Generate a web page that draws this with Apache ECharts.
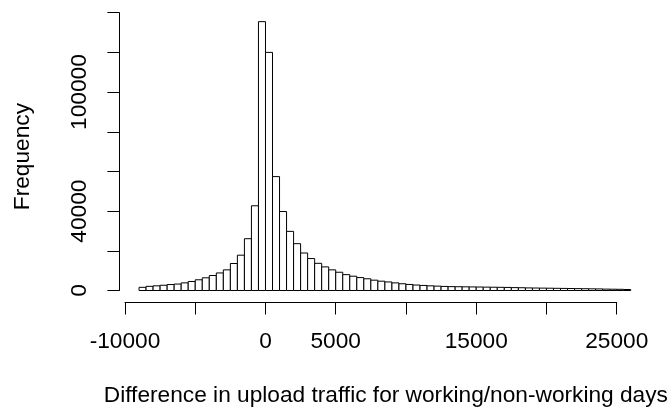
<!DOCTYPE html>
<html>
<head>
<meta charset="utf-8">
<script src="https://cdn.jsdelivr.net/npm/echarts@6/dist/echarts.min.js"></script>
<style>
html,body{margin:0;padding:0;background:#fff;}
#chart{width:672px;height:414px;}
</style>
</head>
<body>
<div id="chart"></div>
<script>
// Histogram bins (left edges, width 500) and counts
const binWidth = 500;
const binStarts = [
  -9000, -8500, -8000, -7500, -7000, -6500, -6000, -5500, -5000, -4500,
  -4000, -3500, -3000, -2500, -2000, -1500, -1000, -500,
  0, 500, 1000, 1500, 2000, 2500, 3000, 3500, 4000, 4500,
  5000, 5500, 6000, 6500, 7000, 7500, 8000, 8500, 9000, 9500,
  10000, 10500, 11000, 11500, 12000, 12500, 13000, 13500, 14000, 14500,
  15000, 15500, 16000, 16500, 17000, 17500, 18000, 18500, 19000, 19500,
  20000, 20500, 21000, 21500, 22000, 22500, 23000, 23500, 24000, 24500,
  25000, 25500
];
const counts = [
  1600, 2100, 2350, 2650, 3000, 3250, 3850, 4550, 5400, 6400,
  7550, 8850, 10400, 13600, 17800, 26100, 42700, 135500,
  120000, 57400, 39800, 29800, 23600, 18900, 16100, 13700, 11900, 10400,
  9200, 8000, 7200, 6500, 5900, 5200, 4700, 4300, 3850, 3400,
  3050, 2750, 2550, 2350, 2200, 2050, 1950, 1900, 1850, 1800,
  1750, 1700, 1650, 1600, 1550, 1450, 1400, 1300, 1250, 1200,
  1150, 1100, 1050, 1000, 950, 900, 850, 800, 700, 650,
  600, 500
];
const xTicksShown = [-10000, 0, 5000, 15000, 25000];
const yTicksShown = [0, 40000, 100000];
const xTitle = 'Difference in upload traffic for working/non-working days';
const yTitle = 'Frequency';

const data = binStarts.map((s, i) => [s, s + binWidth, counts[i]]);
const font = 'Liberation Sans';
const fs = 22.7;

const chart = echarts.init(document.getElementById('chart'), null, {renderer: 'canvas'});
chart.setOption({
  animation: false,
  backgroundColor: '#fff',
  grid: {left: 125, right: 55.3, top: 12.7, bottom: 123.5, containLabel: false},
  xAxis: {
    type: 'value', min: -10000, max: 25000, interval: 5000,
    offset: 12,
    axisLine: {show: true, onZero: false, lineStyle: {color: '#000', width: 1}},
    axisTick: {show: true, length: 12, lineStyle: {color: '#000', width: 1}},
    splitLine: {show: false},
    axisLabel: {
      margin: 28, color: '#000', fontSize: fs, fontFamily: font,
      formatter: v => xTicksShown.indexOf(v) >= 0 ? String(v) : ''
    },
    name: xTitle, nameLocation: 'middle', nameGap: 82,
    nameTextStyle: {color: '#000', fontSize: fs, fontFamily: font, padding: [0, 0, 0, 30]}
  },
  yAxis: {
    type: 'value', min: 0, max: 140000, interval: 20000,
    offset: 5.6,
    axisLine: {show: true, onZero: false, lineStyle: {color: '#000', width: 1}},
    axisTick: {show: true, length: 12, lineStyle: {color: '#000', width: 1}},
    splitLine: {show: false},
    axisLabel: {
      margin: 28, rotate: 90, color: '#000', fontSize: fs, fontFamily: font,
      formatter: v => yTicksShown.indexOf(v) >= 0 ? String(v) : ''
    },
    name: yTitle, nameLocation: 'middle', nameGap: 85, nameRotate: 90,
    nameTextStyle: {color: '#000', fontSize: fs, fontFamily: font, padding: [0, 10, 0, 0]}
  },
  series: [{
    type: 'custom',
    clip: false,
    data: data,
    encode: {x: [0, 1], y: 2},
    renderItem: function (params, api) {
      const p0 = api.coord([api.value(0), 0]);
      const p1 = api.coord([api.value(1), api.value(2)]);
      return {
        type: 'rect',
        shape: {x: p0[0], y: p1[1], width: p1[0] - p0[0], height: p0[1] - p1[1]},
        style: {fill: '#fff', stroke: '#000', lineWidth: 1}
      };
    }
  }]
});
</script>
</body>
</html>
